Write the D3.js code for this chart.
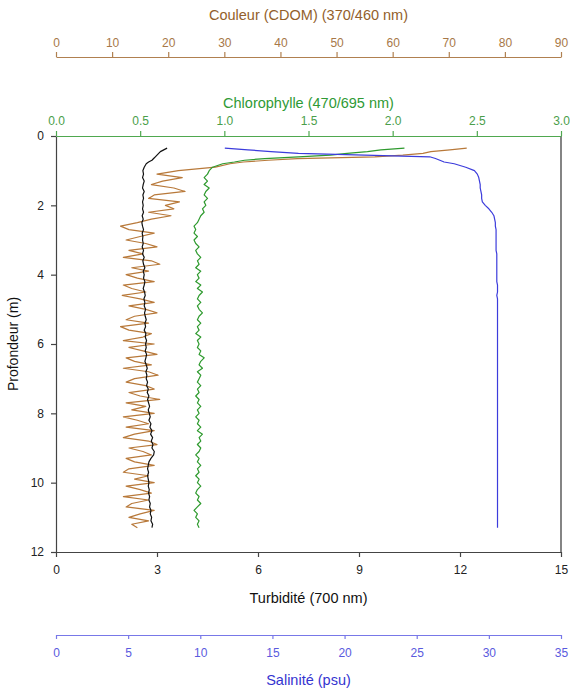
<!DOCTYPE html>
<html>
<head>
<meta charset="utf-8">
<script src="https://cdn.jsdelivr.net/npm/d3@7"></script>
<style>
  body { margin: 0; background: #fff; }
  svg text { font-family: "Liberation Sans", Arial, sans-serif; }
</style>
</head>
<body>
<svg id="chart" width="570" height="692"></svg>
<script>
// Depth of each sample (m)
const depth = [
  0.35, 0.4, 0.45, 0.5, 0.55, 0.6, 0.65, 0.7, 0.75, 0.8, 0.9, 1.0,
  1.1, 1.2, 1.3, 1.4, 1.5, 1.6, 1.7, 1.8, 1.9, 2.0,
  2.1, 2.2, 2.3, 2.4, 2.5, 2.6, 2.7, 2.8, 2.9, 3.0,
  3.1, 3.2, 3.3, 3.4, 3.5, 3.6, 3.7, 3.8, 3.9, 4.0,
  4.1, 4.2, 4.3, 4.4, 4.5, 4.6, 4.7, 4.8, 4.9, 5.0,
  5.1, 5.2, 5.3, 5.4, 5.5, 5.6, 5.7, 5.8, 5.9, 6.0,
  6.1, 6.2, 6.3, 6.4, 6.5, 6.6, 6.7, 6.8, 6.9, 7.0,
  7.1, 7.2, 7.3, 7.4, 7.5, 7.6, 7.7, 7.8, 7.9, 8.0,
  8.1, 8.2, 8.3, 8.4, 8.5, 8.6, 8.7, 8.8, 8.9, 9.0,
  9.1, 9.2, 9.3, 9.4, 9.5, 9.6, 9.7, 9.8, 9.9, 10.0,
  10.1, 10.2, 10.3, 10.4, 10.5, 10.6, 10.7, 10.8, 10.9, 11.0,
  11.1, 11.2, 11.3
];

// Turbidité (700 nm)
const turbidity = [
  3.3, 3.2, 3.1, 3.05, 3.0, 2.95, 2.9, 2.85, 2.75, 2.68, 2.62, 2.58,
  2.6, 2.57, 2.62, 2.59, 2.57, 2.62, 2.58, 2.6, 2.57, 2.59,
  2.57, 2.6, 2.56, 2.59, 2.55, 2.57, 2.6, 2.56, 2.58, 2.57,
  2.59, 2.56, 2.6, 2.57, 2.62, 2.58, 2.6, 2.64, 2.59, 2.62,
  2.6, 2.64, 2.62, 2.59, 2.63, 2.65, 2.61, 2.64, 2.62, 2.66,
  2.63, 2.65, 2.68, 2.64, 2.66, 2.62, 2.67, 2.65, 2.69, 2.66,
  2.68, 2.65, 2.69, 2.67, 2.64, 2.68, 2.71, 2.67, 2.7, 2.68,
  2.72, 2.69, 2.74, 2.71, 2.76, 2.72, 2.75, 2.78, 2.74, 2.77,
  2.8, 2.76, 2.82, 2.79, 2.85, 2.81, 2.87, 2.83, 2.88, 2.85,
  2.92, 2.9, 2.82, 2.76, 2.74, 2.72, 2.75, 2.72, 2.74, 2.76,
  2.74, 2.77, 2.75, 2.78, 2.76, 2.8, 2.78, 2.82, 2.8, 2.84,
  2.82, 2.87, 2.85
];

// Chlorophylle (470/695 nm)
const chloro = [
  2.07, 1.93, 1.85, 1.73, 1.63, 1.44, 1.24, 1.12, 1.06, 0.99, 0.93, 0.91,
  0.9, 0.88, 0.9, 0.88, 0.91, 0.89, 0.88, 0.9, 0.88, 0.89,
  0.87, 0.88, 0.86, 0.85, 0.84, 0.82, 0.83, 0.82, 0.84, 0.82,
  0.83, 0.85, 0.83, 0.84, 0.86, 0.84, 0.85, 0.83, 0.86, 0.84,
  0.85, 0.83, 0.86, 0.84, 0.87, 0.85, 0.84, 0.86, 0.84, 0.85,
  0.87, 0.85, 0.84, 0.86, 0.84, 0.85, 0.83, 0.86, 0.84, 0.85,
  0.84, 0.86, 0.85, 0.88, 0.86, 0.85, 0.87, 0.84, 0.86, 0.85,
  0.84, 0.86, 0.84, 0.85, 0.83, 0.85, 0.84, 0.86, 0.84, 0.85,
  0.83, 0.85, 0.84, 0.86, 0.84, 0.87, 0.85, 0.86, 0.84, 0.86,
  0.85, 0.83, 0.85, 0.84, 0.86, 0.84, 0.85, 0.83, 0.85, 0.84,
  0.86, 0.84, 0.83, 0.85, 0.84, 0.86, 0.84, 0.82, 0.84, 0.83,
  0.85, 0.84, 0.85
];

// Couleur (CDOM) (370/460 nm)
const cdom = [
  73.2, 70.2, 66.8, 65.4, 61.8, 56.8, 43, 37.8, 33.4, 31, 28.4, 21.8,
  18, 22.5, 19, 17, 21, 23, 17.5, 16.5, 22, 19.5,
  21, 16.5, 20.5, 17, 14.5, 11.5, 13, 17.5, 15, 12.5,
  16, 18, 13, 15.5, 12, 17, 18.5, 13.5, 16.5, 12.5,
  14.5, 17.5, 12, 13.5, 16, 11.8, 15, 17.5, 13, 16,
  18, 14, 12.5, 16.5, 11.5, 13, 17, 15.5, 12, 17.5,
  13, 15.5, 18, 12.5, 14, 17, 12, 16.5, 18.2, 14,
  12.5, 16, 17.5, 13, 15, 18.5, 12.5, 16, 13.5, 17.5,
  12, 14.5, 16.5, 12.5, 17.5, 14, 12, 16.5, 18, 13,
  15.5, 17, 12.5, 14, 17.5, 13, 12, 16.5, 14, 17.5,
  12.5, 15, 17, 12, 16.5, 13.5, 12.5, 17.5, 15, 13,
  16.5, 13.5, 14.5
];

// Salinité (psu)
const salinity = [
  11.7, 13.3, 14.9, 16.8, 21.4, 25.9, 26.3, 26.6, 26.9, 27.6, 28.4, 29.0,
  29.2, 29.3, 29.35, 29.4, 29.4, 29.45, 29.5, 29.5, 29.55, 29.75,
  30.0, 30.2, 30.35, 30.4, 30.45, 30.45, 30.5, 30.5, 30.5, 30.5,
  30.5, 30.5, 30.5, 30.55, 30.55, 30.55, 30.55, 30.55, 30.55, 30.55,
  30.55, 30.55, 30.6, 30.6, 30.6, 30.55, 30.6, 30.6, 30.6, 30.6,
  30.6, 30.6, 30.6, 30.6, 30.6, 30.6, 30.6, 30.6, 30.6, 30.6,
  30.6, 30.6, 30.6, 30.6, 30.6, 30.6, 30.6, 30.6, 30.6, 30.6,
  30.6, 30.6, 30.6, 30.6, 30.6, 30.6, 30.6, 30.6, 30.6, 30.6,
  30.6, 30.6, 30.6, 30.6, 30.6, 30.6, 30.6, 30.6, 30.6, 30.6,
  30.6, 30.6, 30.6, 30.6, 30.6, 30.6, 30.6, 30.6, 30.6, 30.6,
  30.6, 30.6, 30.6, 30.6, 30.6, 30.6, 30.6, 30.6, 30.6, 30.6,
  30.6, 30.6, 30.6
];

const depthTicks = [0, 2, 4, 6, 8, 10, 12];
const turbTicks = [0, 3, 6, 9, 12, 15];
const chlTicks = [0, 0.5, 1, 1.5, 2, 2.5, 3];
const cdomTicks = [0, 10, 20, 30, 40, 50, 60, 70, 80, 90];
const salTicks = [0, 5, 10, 15, 20, 25, 30, 35];

let svg = d3.select("#chart");

let plotLeft = 56, plotRight = 561, plotTop = 136, plotBottom = 552;
let cx = (plotLeft + plotRight) / 2;

// Scales
let yScale = d3.scaleLinear().domain([0, 12]).range([plotTop, plotBottom]);
let xTurb = d3.scaleLinear().domain([0, 15]).range([plotLeft, plotRight]);
let xChl = d3.scaleLinear().domain([0, 3]).range([plotLeft, plotRight]);
let xCdom = d3.scaleLinear().domain([0, 90]).range([plotLeft, plotRight]);
let xSal = d3.scaleLinear().domain([0, 35]).range([plotLeft, plotRight]);

// Small helper to style an axis group
function styleAxis(g, lineColor, textColor) {
    g.selectAll("path").attr("stroke", lineColor).attr("stroke-width", 1.2);
    g.selectAll("line").attr("stroke", lineColor).attr("stroke-width", 1.2);
    g.selectAll("text").attr("fill", textColor).style("font-size", "12px")
        .style("font-family", '"Liberation Sans", Arial, sans-serif');
}

// Right border of the frame
svg.append("line")
    .attr("x1", plotRight).attr("x2", plotRight)
    .attr("y1", plotTop).attr("y2", plotBottom)
    .attr("stroke", "#333").attr("stroke-width", 1.2);

// Data lines
let series = [
    { values: cdom, x: xCdom, color: "#b8793a" },
    { values: chloro, x: xChl, color: "#2e9a2e" },
    { values: turbidity, x: xTurb, color: "#111111" },
    { values: salinity, x: xSal, color: "#3c3cdc" }
];

series.forEach(s => {
    let line = d3.line()
        .x((d, i) => s.x(s.values[i]))
        .y(d => yScale(d));

    svg.append("path")
        .datum(depth)
        .attr("fill", "none")
        .attr("stroke", s.color)
        .attr("stroke-width", 1.2)
        .attr("stroke-linejoin", "round")
        .attr("d", line);
});

// Left axis (depth)
let gy = svg.append("g")
    .attr("transform", `translate(${plotLeft},0)`)
    .call(d3.axisLeft(yScale).tickValues(depthTicks).tickSize(5).tickPadding(7).tickSizeOuter(0));
styleAxis(gy, "#444", "#222");

// Bottom axis (turbidity)
let gx = svg.append("g")
    .attr("transform", `translate(0,${plotBottom})`)
    .call(d3.axisBottom(xTurb).tickValues(turbTicks).tickSize(5).tickPadding(8).tickSizeOuter(0));
styleAxis(gx, "#444", "#222");

// Top axis (chlorophyll)
let gc = svg.append("g")
    .attr("transform", `translate(0,${plotTop})`)
    .call(d3.axisTop(xChl).tickValues(chlTicks).tickFormat(d3.format(".1f")).tickSize(5).tickPadding(6).tickSizeOuter(0));
styleAxis(gc, "#4fa84f", "#4a9e4a");

// CDOM axis
let gd = svg.append("g")
    .attr("transform", "translate(0,57)")
    .call(d3.axisTop(xCdom).tickValues(cdomTicks).tickSize(5).tickPadding(5).tickSizeOuter(0));
styleAxis(gd, "#b08050", "#a77848");

// Salinity axis
let gs = svg.append("g")
    .attr("transform", "translate(0,635)")
    .call(d3.axisBottom(xSal).tickValues(salTicks).tickSize(4).tickPadding(9).tickSizeOuter(0));
styleAxis(gs, "#7878e8", "#5a5ade");

// Titles
function title(x, y, txt, color, size, rotate) {
    let t = svg.append("text")
        .attr("x", x).attr("y", y)
        .attr("text-anchor", "middle")
        .attr("fill", color)
        .style("font-size", size + "px")
        .text(txt);
    if (rotate) t.attr("transform", `rotate(-90,${x},${y})`);
}

title(cx, 20, "Couleur (CDOM) (370/460 nm)", "#935f2c", 14.5);
title(cx, 108, "Chlorophylle (470/695 nm)", "#2f9a35", 14.5);
title(cx, 603, "Turbidité (700 nm)", "#111", 14.5);
title(cx, 685, "Salinité (psu)", "#3434d0", 14.5);
title(18, (plotTop + plotBottom) / 2, "Profondeur (m)", "#111", 14, true);
</script>
</body>
</html>
